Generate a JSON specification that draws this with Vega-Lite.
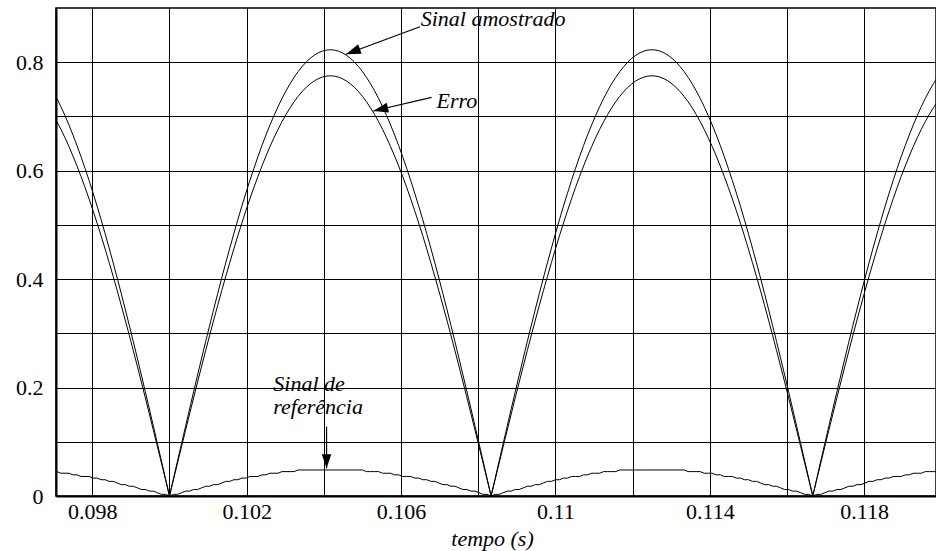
{
  "$schema": "https://vega.github.io/schema/vega-lite/v6.json",
  "width": 880,
  "height": 488,
  "autosize": {"type": "none"},
  "padding": {"left": 56, "top": 8, "right": 0, "bottom": 55},
  "background": "white",
  "config": {
    "view": {"stroke": "#000", "strokeWidth": 1.5},
    "font": "Liberation Serif"
  },
  "datasets": {
    "sig": [
      {"t":0.096979,"a":0.7474,"e":0.7038,"r":0.045},
      {"t":0.097083,"a":0.7333,"e":0.6905,"r":0.045},
      {"t":0.097187,"a":0.7181,"e":0.6762,"r":0.042},
      {"t":0.097292,"a":0.7017,"e":0.6608,"r":0.042},
      {"t":0.097396,"a":0.6843,"e":0.6444,"r":0.042},
      {"t":0.0975,"a":0.6658,"e":0.627,"r":0.039},
      {"t":0.097604,"a":0.6463,"e":0.6086,"r":0.039},
      {"t":0.097708,"a":0.6258,"e":0.5893,"r":0.036},
      {"t":0.097812,"a":0.6043,"e":0.5691,"r":0.036},
      {"t":0.097917,"a":0.582,"e":0.548,"r":0.036},
      {"t":0.098021,"a":0.5586,"e":0.5261,"r":0.033},
      {"t":0.098125,"a":0.5345,"e":0.5033,"r":0.033},
      {"t":0.098229,"a":0.5095,"e":0.4798,"r":0.03},
      {"t":0.098333,"a":0.4837,"e":0.4555,"r":0.03},
      {"t":0.098437,"a":0.4572,"e":0.4306,"r":0.027},
      {"t":0.098542,"a":0.43,"e":0.4049,"r":0.027},
      {"t":0.098646,"a":0.4021,"e":0.3787,"r":0.024},
      {"t":0.09875,"a":0.3736,"e":0.3518,"r":0.021},
      {"t":0.098854,"a":0.3446,"e":0.3245,"r":0.021},
      {"t":0.098958,"a":0.3149,"e":0.2966,"r":0.018},
      {"t":0.099062,"a":0.2849,"e":0.2682,"r":0.018},
      {"t":0.099167,"a":0.2543,"e":0.2395,"r":0.015},
      {"t":0.099271,"a":0.2234,"e":0.2104,"r":0.012},
      {"t":0.099375,"a":0.1921,"e":0.1809,"r":0.012},
      {"t":0.099479,"a":0.1606,"e":0.1512,"r":0.009},
      {"t":0.099583,"a":0.1287,"e":0.1212,"r":0.009},
      {"t":0.099687,"a":0.0967,"e":0.0911,"r":0.006},
      {"t":0.099792,"a":0.0646,"e":0.0608,"r":0.003},
      {"t":0.099896,"a":0.0323,"e":0.0304,"r":0.003},
      {"t":0.1,"a":0,"e":0,"r":0},
      {"t":0.100104,"a":0.0323,"e":0.0304,"r":0.003},
      {"t":0.100208,"a":0.0646,"e":0.0608,"r":0.003},
      {"t":0.100313,"a":0.0967,"e":0.0911,"r":0.006},
      {"t":0.100417,"a":0.1287,"e":0.1212,"r":0.009},
      {"t":0.100521,"a":0.1606,"e":0.1512,"r":0.009},
      {"t":0.100625,"a":0.1921,"e":0.1809,"r":0.012},
      {"t":0.100729,"a":0.2234,"e":0.2104,"r":0.012},
      {"t":0.100833,"a":0.2543,"e":0.2395,"r":0.015},
      {"t":0.100938,"a":0.2849,"e":0.2682,"r":0.018},
      {"t":0.101042,"a":0.3149,"e":0.2966,"r":0.018},
      {"t":0.101146,"a":0.3446,"e":0.3245,"r":0.021},
      {"t":0.10125,"a":0.3736,"e":0.3518,"r":0.021},
      {"t":0.101354,"a":0.4021,"e":0.3787,"r":0.024},
      {"t":0.101458,"a":0.43,"e":0.4049,"r":0.027},
      {"t":0.101563,"a":0.4572,"e":0.4306,"r":0.027},
      {"t":0.101667,"a":0.4837,"e":0.4555,"r":0.03},
      {"t":0.101771,"a":0.5095,"e":0.4798,"r":0.03},
      {"t":0.101875,"a":0.5345,"e":0.5033,"r":0.033},
      {"t":0.101979,"a":0.5586,"e":0.5261,"r":0.033},
      {"t":0.102083,"a":0.582,"e":0.548,"r":0.036},
      {"t":0.102188,"a":0.6043,"e":0.5691,"r":0.036},
      {"t":0.102292,"a":0.6258,"e":0.5893,"r":0.036},
      {"t":0.102396,"a":0.6463,"e":0.6086,"r":0.039},
      {"t":0.1025,"a":0.6658,"e":0.627,"r":0.039},
      {"t":0.102604,"a":0.6843,"e":0.6444,"r":0.042},
      {"t":0.102708,"a":0.7017,"e":0.6608,"r":0.042},
      {"t":0.102813,"a":0.7181,"e":0.6762,"r":0.042},
      {"t":0.102917,"a":0.7333,"e":0.6905,"r":0.045},
      {"t":0.103021,"a":0.7474,"e":0.7038,"r":0.045},
      {"t":0.103125,"a":0.7604,"e":0.716,"r":0.045},
      {"t":0.103229,"a":0.7721,"e":0.7271,"r":0.045},
      {"t":0.103333,"a":0.7827,"e":0.7371,"r":0.048},
      {"t":0.103438,"a":0.7921,"e":0.7459,"r":0.048},
      {"t":0.103542,"a":0.8003,"e":0.7536,"r":0.048},
      {"t":0.103646,"a":0.8072,"e":0.7601,"r":0.048},
      {"t":0.10375,"a":0.8129,"e":0.7655,"r":0.048},
      {"t":0.103854,"a":0.8173,"e":0.7696,"r":0.048},
      {"t":0.103958,"a":0.8205,"e":0.7726,"r":0.048},
      {"t":0.104063,"a":0.8224,"e":0.7744,"r":0.048},
      {"t":0.104167,"a":0.823,"e":0.775,"r":0.048},
      {"t":0.104271,"a":0.8224,"e":0.7744,"r":0.048},
      {"t":0.104375,"a":0.8205,"e":0.7726,"r":0.048},
      {"t":0.104479,"a":0.8173,"e":0.7696,"r":0.048},
      {"t":0.104583,"a":0.8129,"e":0.7655,"r":0.048},
      {"t":0.104688,"a":0.8072,"e":0.7601,"r":0.048},
      {"t":0.104792,"a":0.8003,"e":0.7536,"r":0.048},
      {"t":0.104896,"a":0.7921,"e":0.7459,"r":0.048},
      {"t":0.105,"a":0.7827,"e":0.7371,"r":0.048},
      {"t":0.105104,"a":0.7721,"e":0.7271,"r":0.045},
      {"t":0.105208,"a":0.7604,"e":0.716,"r":0.045},
      {"t":0.105313,"a":0.7474,"e":0.7038,"r":0.045},
      {"t":0.105417,"a":0.7333,"e":0.6905,"r":0.045},
      {"t":0.105521,"a":0.7181,"e":0.6762,"r":0.042},
      {"t":0.105625,"a":0.7017,"e":0.6608,"r":0.042},
      {"t":0.105729,"a":0.6843,"e":0.6444,"r":0.042},
      {"t":0.105833,"a":0.6658,"e":0.627,"r":0.039},
      {"t":0.105938,"a":0.6463,"e":0.6086,"r":0.039},
      {"t":0.106042,"a":0.6258,"e":0.5893,"r":0.036},
      {"t":0.106146,"a":0.6043,"e":0.5691,"r":0.036},
      {"t":0.10625,"a":0.582,"e":0.548,"r":0.036},
      {"t":0.106354,"a":0.5586,"e":0.5261,"r":0.033},
      {"t":0.106458,"a":0.5345,"e":0.5033,"r":0.033},
      {"t":0.106563,"a":0.5095,"e":0.4798,"r":0.03},
      {"t":0.106667,"a":0.4837,"e":0.4555,"r":0.03},
      {"t":0.106771,"a":0.4572,"e":0.4306,"r":0.027},
      {"t":0.106875,"a":0.43,"e":0.4049,"r":0.027},
      {"t":0.106979,"a":0.4021,"e":0.3787,"r":0.024},
      {"t":0.107083,"a":0.3736,"e":0.3518,"r":0.021},
      {"t":0.107188,"a":0.3446,"e":0.3245,"r":0.021},
      {"t":0.107292,"a":0.3149,"e":0.2966,"r":0.018},
      {"t":0.107396,"a":0.2849,"e":0.2682,"r":0.018},
      {"t":0.1075,"a":0.2543,"e":0.2395,"r":0.015},
      {"t":0.107604,"a":0.2234,"e":0.2104,"r":0.012},
      {"t":0.107708,"a":0.1921,"e":0.1809,"r":0.012},
      {"t":0.107813,"a":0.1606,"e":0.1512,"r":0.009},
      {"t":0.107917,"a":0.1287,"e":0.1212,"r":0.009},
      {"t":0.108021,"a":0.0967,"e":0.0911,"r":0.006},
      {"t":0.108125,"a":0.0646,"e":0.0608,"r":0.003},
      {"t":0.108229,"a":0.0323,"e":0.0304,"r":0.003},
      {"t":0.108333,"a":0,"e":0,"r":0},
      {"t":0.108438,"a":0.0323,"e":0.0304,"r":0.003},
      {"t":0.108542,"a":0.0646,"e":0.0608,"r":0.003},
      {"t":0.108646,"a":0.0967,"e":0.0911,"r":0.006},
      {"t":0.10875,"a":0.1287,"e":0.1212,"r":0.009},
      {"t":0.108854,"a":0.1606,"e":0.1512,"r":0.009},
      {"t":0.108958,"a":0.1921,"e":0.1809,"r":0.012},
      {"t":0.109063,"a":0.2234,"e":0.2104,"r":0.012},
      {"t":0.109167,"a":0.2543,"e":0.2395,"r":0.015},
      {"t":0.109271,"a":0.2849,"e":0.2682,"r":0.018},
      {"t":0.109375,"a":0.3149,"e":0.2966,"r":0.018},
      {"t":0.109479,"a":0.3446,"e":0.3245,"r":0.021},
      {"t":0.109583,"a":0.3736,"e":0.3518,"r":0.021},
      {"t":0.109688,"a":0.4021,"e":0.3787,"r":0.024},
      {"t":0.109792,"a":0.43,"e":0.4049,"r":0.027},
      {"t":0.109896,"a":0.4572,"e":0.4306,"r":0.027},
      {"t":0.11,"a":0.4837,"e":0.4555,"r":0.03},
      {"t":0.110104,"a":0.5095,"e":0.4798,"r":0.03},
      {"t":0.110208,"a":0.5345,"e":0.5033,"r":0.033},
      {"t":0.110313,"a":0.5586,"e":0.5261,"r":0.033},
      {"t":0.110417,"a":0.582,"e":0.548,"r":0.036},
      {"t":0.110521,"a":0.6043,"e":0.5691,"r":0.036},
      {"t":0.110625,"a":0.6258,"e":0.5893,"r":0.036},
      {"t":0.110729,"a":0.6463,"e":0.6086,"r":0.039},
      {"t":0.110833,"a":0.6658,"e":0.627,"r":0.039},
      {"t":0.110938,"a":0.6843,"e":0.6444,"r":0.042},
      {"t":0.111042,"a":0.7017,"e":0.6608,"r":0.042},
      {"t":0.111146,"a":0.7181,"e":0.6762,"r":0.042},
      {"t":0.11125,"a":0.7333,"e":0.6905,"r":0.045},
      {"t":0.111354,"a":0.7474,"e":0.7038,"r":0.045},
      {"t":0.111458,"a":0.7604,"e":0.716,"r":0.045},
      {"t":0.111563,"a":0.7721,"e":0.7271,"r":0.045},
      {"t":0.111667,"a":0.7827,"e":0.7371,"r":0.048},
      {"t":0.111771,"a":0.7921,"e":0.7459,"r":0.048},
      {"t":0.111875,"a":0.8003,"e":0.7536,"r":0.048},
      {"t":0.111979,"a":0.8072,"e":0.7601,"r":0.048},
      {"t":0.112083,"a":0.8129,"e":0.7655,"r":0.048},
      {"t":0.112188,"a":0.8173,"e":0.7696,"r":0.048},
      {"t":0.112292,"a":0.8205,"e":0.7726,"r":0.048},
      {"t":0.112396,"a":0.8224,"e":0.7744,"r":0.048},
      {"t":0.1125,"a":0.823,"e":0.775,"r":0.048},
      {"t":0.112604,"a":0.8224,"e":0.7744,"r":0.048},
      {"t":0.112708,"a":0.8205,"e":0.7726,"r":0.048},
      {"t":0.112813,"a":0.8173,"e":0.7696,"r":0.048},
      {"t":0.112917,"a":0.8129,"e":0.7655,"r":0.048},
      {"t":0.113021,"a":0.8072,"e":0.7601,"r":0.048},
      {"t":0.113125,"a":0.8003,"e":0.7536,"r":0.048},
      {"t":0.113229,"a":0.7921,"e":0.7459,"r":0.048},
      {"t":0.113333,"a":0.7827,"e":0.7371,"r":0.048},
      {"t":0.113438,"a":0.7721,"e":0.7271,"r":0.045},
      {"t":0.113542,"a":0.7604,"e":0.716,"r":0.045},
      {"t":0.113646,"a":0.7474,"e":0.7038,"r":0.045},
      {"t":0.11375,"a":0.7333,"e":0.6905,"r":0.045},
      {"t":0.113854,"a":0.7181,"e":0.6762,"r":0.042},
      {"t":0.113958,"a":0.7017,"e":0.6608,"r":0.042},
      {"t":0.114063,"a":0.6843,"e":0.6444,"r":0.042},
      {"t":0.114167,"a":0.6658,"e":0.627,"r":0.039},
      {"t":0.114271,"a":0.6463,"e":0.6086,"r":0.039},
      {"t":0.114375,"a":0.6258,"e":0.5893,"r":0.036},
      {"t":0.114479,"a":0.6043,"e":0.5691,"r":0.036},
      {"t":0.114583,"a":0.582,"e":0.548,"r":0.036},
      {"t":0.114688,"a":0.5586,"e":0.5261,"r":0.033},
      {"t":0.114792,"a":0.5345,"e":0.5033,"r":0.033},
      {"t":0.114896,"a":0.5095,"e":0.4798,"r":0.03},
      {"t":0.115,"a":0.4837,"e":0.4555,"r":0.03},
      {"t":0.115104,"a":0.4572,"e":0.4306,"r":0.027},
      {"t":0.115208,"a":0.43,"e":0.4049,"r":0.027},
      {"t":0.115313,"a":0.4021,"e":0.3787,"r":0.024},
      {"t":0.115417,"a":0.3736,"e":0.3518,"r":0.021},
      {"t":0.115521,"a":0.3446,"e":0.3245,"r":0.021},
      {"t":0.115625,"a":0.3149,"e":0.2966,"r":0.018},
      {"t":0.115729,"a":0.2849,"e":0.2682,"r":0.018},
      {"t":0.115833,"a":0.2543,"e":0.2395,"r":0.015},
      {"t":0.115938,"a":0.2234,"e":0.2104,"r":0.012},
      {"t":0.116042,"a":0.1921,"e":0.1809,"r":0.012},
      {"t":0.116146,"a":0.1606,"e":0.1512,"r":0.009},
      {"t":0.11625,"a":0.1287,"e":0.1212,"r":0.009},
      {"t":0.116354,"a":0.0967,"e":0.0911,"r":0.006},
      {"t":0.116458,"a":0.0646,"e":0.0608,"r":0.003},
      {"t":0.116563,"a":0.0323,"e":0.0304,"r":0.003},
      {"t":0.116667,"a":0,"e":0,"r":0},
      {"t":0.116771,"a":0.0323,"e":0.0304,"r":0.003},
      {"t":0.116875,"a":0.0646,"e":0.0608,"r":0.003},
      {"t":0.116979,"a":0.0967,"e":0.0911,"r":0.006},
      {"t":0.117083,"a":0.1287,"e":0.1212,"r":0.009},
      {"t":0.117188,"a":0.1606,"e":0.1512,"r":0.009},
      {"t":0.117292,"a":0.1921,"e":0.1809,"r":0.012},
      {"t":0.117396,"a":0.2234,"e":0.2104,"r":0.012},
      {"t":0.1175,"a":0.2543,"e":0.2395,"r":0.015},
      {"t":0.117604,"a":0.2849,"e":0.2682,"r":0.018},
      {"t":0.117708,"a":0.3149,"e":0.2966,"r":0.018},
      {"t":0.117813,"a":0.3446,"e":0.3245,"r":0.021},
      {"t":0.117917,"a":0.3736,"e":0.3518,"r":0.021},
      {"t":0.118021,"a":0.4021,"e":0.3787,"r":0.024},
      {"t":0.118125,"a":0.43,"e":0.4049,"r":0.027},
      {"t":0.118229,"a":0.4572,"e":0.4306,"r":0.027},
      {"t":0.118333,"a":0.4837,"e":0.4555,"r":0.03},
      {"t":0.118438,"a":0.5095,"e":0.4798,"r":0.03},
      {"t":0.118542,"a":0.5345,"e":0.5033,"r":0.033},
      {"t":0.118646,"a":0.5586,"e":0.5261,"r":0.033},
      {"t":0.11875,"a":0.582,"e":0.548,"r":0.036},
      {"t":0.118854,"a":0.6043,"e":0.5691,"r":0.036},
      {"t":0.118958,"a":0.6258,"e":0.5893,"r":0.036},
      {"t":0.119063,"a":0.6463,"e":0.6086,"r":0.039},
      {"t":0.119167,"a":0.6658,"e":0.627,"r":0.039},
      {"t":0.119271,"a":0.6843,"e":0.6444,"r":0.042},
      {"t":0.119375,"a":0.7017,"e":0.6608,"r":0.042},
      {"t":0.119479,"a":0.7181,"e":0.6762,"r":0.042},
      {"t":0.119583,"a":0.7333,"e":0.6905,"r":0.045},
      {"t":0.119688,"a":0.7474,"e":0.7038,"r":0.045},
      {"t":0.119792,"a":0.7604,"e":0.716,"r":0.045},
      {"t":0.119896,"a":0.7721,"e":0.7271,"r":0.045}
    ],
    "notes": [
      {"label":"Sinal amostrado","x":0.10651,"y":0.8668},
      {"label":"Erro","x":0.10692,"y":0.7156},
      {"label":["Sinal de","referência"],"x":0.10269,"y":0.1935}
    ],
    "arrows": [
      {"id":"amostrado","x1":0.10649,"y1":0.8655,"x2":0.10457,"y2":0.8146},
      {"id":"erro","x1":0.10679,"y1":0.7353,"x2":0.10528,"y2":0.71},
      {"id":"ref","x1":0.10407,"y1":0.1278,"x2":0.10407,"y2":0.0511}
    ]
  },
  "layer": [
    {
      "data": {"name": "sig"},
      "mark": {"type": "line", "interpolate": "linear", "stroke": "#000", "strokeWidth": 1, "clip": true},
      "encoding": {
        "x": {
          "field": "t", "type": "quantitative", "title": "tempo (s)",
          "scale": {"domain": [0.09706, 0.11986], "nice": false, "zero": false},
          "axis": {
            "values": [0.098, 0.1, 0.102, 0.104, 0.106, 0.108, 0.11, 0.112, 0.114, 0.116, 0.118],
            "labelExpr": "(round(datum.value*1000) % 4 == 2) ? format(datum.value, '~g') : ''",
            "grid": true, "gridColor": "#000", "gridOpacity": 1, "gridWidth": 1,
            "ticks": false,
            "domainColor": "#000", "domainWidth": 2,
            "labelFont": "Liberation Serif", "labelFontSize": 22, "labelColor": "#000",
            "labelPadding": 5, "labelDx": -5, "labelFlush": false, "labelOverlap": false,
            "titleFont": "Liberation Serif", "titleFontStyle": "italic", "titleFontWeight": "normal",
            "titleFontSize": 22, "titleColor": "#000", "titleBaseline": "alphabetic", "titleY": 49, "titleX": 436
          }
        },
        "y": {
          "field": "a", "type": "quantitative", "title": null,
          "scale": {"domain": [0, 0.9], "nice": false, "zero": false},
          "axis": {
            "values": [0, 0.1, 0.2, 0.3, 0.4, 0.5, 0.6, 0.7, 0.8],
            "labelExpr": "(round(datum.value*10) % 2 == 0) ? format(datum.value, '~g') : ''",
            "grid": true, "gridColor": "#000", "gridOpacity": 1, "gridWidth": 1,
            "ticks": false,
            "domainColor": "#000", "domainWidth": 2,
            "labelFont": "Liberation Serif", "labelFontSize": 22, "labelColor": "#000",
            "labelPadding": 13, "labelFlush": false, "labelOverlap": false
          }
        }
      }
    },
    {
      "data": {"name": "sig"},
      "mark": {"type": "line", "interpolate": "linear", "stroke": "#000", "strokeWidth": 1, "clip": true},
      "encoding": {
        "x": {"field": "t", "type": "quantitative", "title": "tempo (s)"},
        "y": {"field": "e", "type": "quantitative", "title": null}
      }
    },
    {
      "data": {"name": "sig"},
      "mark": {"type": "line", "interpolate": "linear", "stroke": "#000", "strokeWidth": 1, "clip": true},
      "encoding": {
        "x": {"field": "t", "type": "quantitative", "title": "tempo (s)"},
        "y": {"field": "r", "type": "quantitative", "title": null}
      }
    },
    {
      "data": {"name": "arrows"},
      "mark": {"type": "rule", "stroke": "#000", "strokeWidth": 1.2},
      "encoding": {
        "x": {"field": "x1", "type": "quantitative", "title": "tempo (s)"},
        "y": {"field": "y1", "type": "quantitative", "title": null},
        "x2": {"field": "x2"},
        "y2": {"field": "y2"}
      }
    },
    {
      "data": {"name": "arrows"},
      "transform": [{"filter": "datum.id == 'amostrado'"}],
      "mark": {"type": "point", "shape": "M0,0L0.67,2L-0.67,2Z", "size": 225, "filled": true, "fill": "#000", "stroke": null, "opacity": 1, "angle": 249.6},
      "encoding": {
        "x": {"field": "x2", "type": "quantitative", "title": "tempo (s)"},
        "y": {"field": "y2", "type": "quantitative", "title": null}
      }
    },
    {
      "data": {"name": "arrows"},
      "transform": [{"filter": "datum.id == 'erro'"}],
      "mark": {"type": "point", "shape": "M0,0L0.67,2L-0.67,2Z", "size": 225, "filled": true, "fill": "#000", "stroke": null, "opacity": 1, "angle": 256.8},
      "encoding": {
        "x": {"field": "x2", "type": "quantitative", "title": "tempo (s)"},
        "y": {"field": "y2", "type": "quantitative", "title": null}
      }
    },
    {
      "data": {"name": "arrows"},
      "transform": [{"filter": "datum.id == 'ref'"}],
      "mark": {"type": "point", "shape": "M0,0L0.67,2L-0.67,2Z", "size": 200, "filled": true, "fill": "#000", "stroke": null, "opacity": 1, "angle": 180},
      "encoding": {
        "x": {"field": "x2", "type": "quantitative", "title": "tempo (s)"},
        "y": {"field": "y2", "type": "quantitative", "title": null}
      }
    },
    {
      "data": {"name": "notes"},
      "mark": {"type": "text", "align": "left", "baseline": "alphabetic", "font": "Liberation Serif", "fontStyle": "italic", "fontSize": 22, "lineHeight": 23, "fill": "#000"},
      "encoding": {
        "x": {"field": "x", "type": "quantitative", "title": "tempo (s)"},
        "y": {"field": "y", "type": "quantitative", "title": null},
        "text": {"field": "label"}
      }
    }
  ]
}
